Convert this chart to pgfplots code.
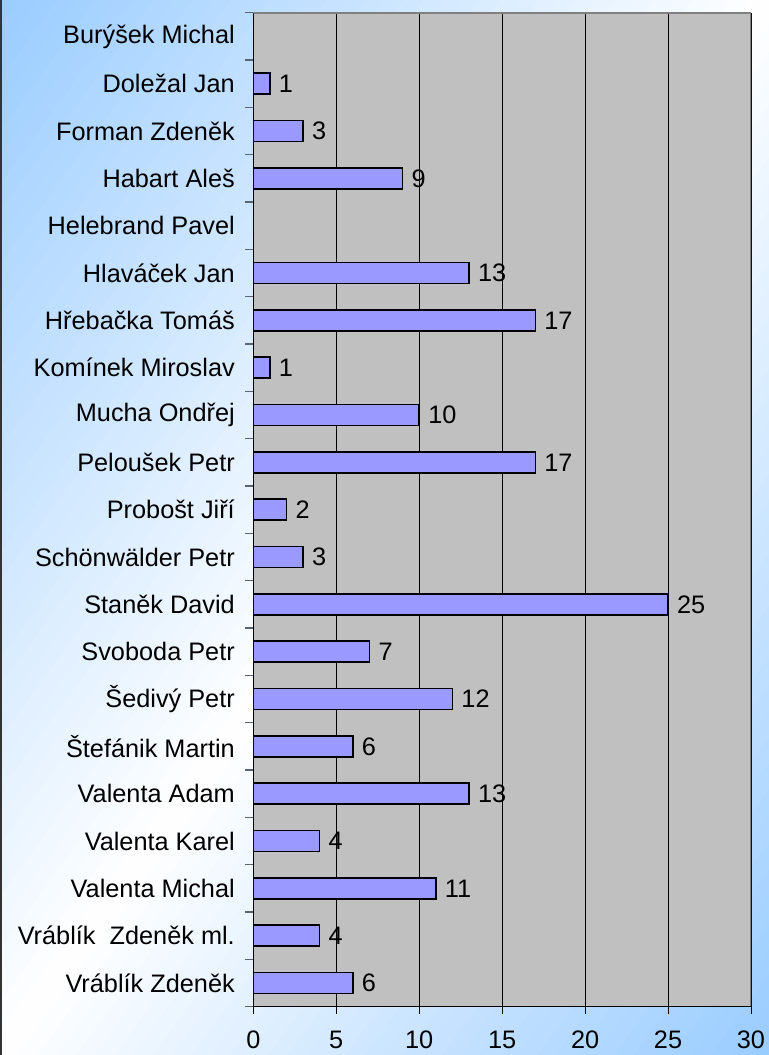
\documentclass[border=0pt]{standalone}
\usepackage{pgfplots}
\pgfplotsset{compat=1.18}
\usepackage{fontspec}
\setmainfont{Liberation Sans}
\definecolor{bgblue}{HTML}{99CCFF}
\definecolor{barfill}{HTML}{9999FF}
\definecolor{plotbg}{HTML}{C0C0C0}
\definecolor{bordergray}{HTML}{808080}
\definecolor{tickgray}{HTML}{5A6470}
\newcommand{\lblfont}{\fontsize{25.3bp}{30bp}\selectfont}
\begin{document}
\begin{tikzpicture}
\useasboundingbox (0,0) rectangle (769bp,1055bp);
\begin{scope}[x=769bp, y=1055bp]
  \clip (0,0) rectangle (1,1);
  \foreach \i in {0,...,79}{
    \pgfmathsetmacro{\ca}{\i/80}
    \pgfmathsetmacro{\cb}{(\i+1)/80}
    \pgfmathsetmacro{\p}{100*abs(2*(\i+0.5)/80-1)}
    \fill[bgblue!\p!white, draw=bgblue!\p!white, line width=0.6bp]
      (0,{1-2*\ca}) -- (1,{2-2*\ca}) -- (1,{2-2*\cb}) -- (0,{1-2*\cb}) -- cycle;
  }
\end{scope}
\draw[line width=1.5bp, black!80] (0.75bp,0) -- (0.75bp,1055bp);
\begin{axis}[
  at={(253.3bp,48.3bp)}, anchor=south west,
  scale only axis, width=497.7bp, height=994bp,
  xbar, bar width=21bp,
  xmin=0, xmax=30, ymin=-0.5, ymax=20.5,
  xtick={0,5,...,30}, ytick={0,...,20},
  yticklabels={Vráblík Zdeněk\hspace{10bp}, Vráblík\ \ Zdeněk ml., Valenta Michal, Valenta Karel, Valenta Adam, Štefánik Martin, Šedivý Petr, Svoboda Petr\hspace{10bp}, Staněk David\hspace{10bp}, Schönwälder Petr, Probošt Jiří, Peloušek Petr\hspace{10bp}, Mucha Ondřej, Komínek Miroslav, Hřebačka Tomáš, Hlaváček Jan, Helebrand Pavel, Habart Aleš, Forman Zdeněk, Doležal Jan, Burýšek Michal},
  minor ytick={-0.5,0.5,...,20.5},
  tick align=outside, xtick pos=left, ytick pos=left,
  major tick length=7bp, minor tick length=8bp,
  major x tick style={black, line width=1bp},
  major y tick style={draw=none},
  minor y tick style={tickgray, line width=1.5bp},
  xmajorgrids, major x grid style={black, line width=0.9bp},
  axis background/.style={fill=plotbg},
  axis line style={draw=none},
  tick label style={font=\lblfont, black},
  xticklabel style={yshift=-14bp},
  yticklabel style={xshift=-8bp},
  /pgf/number format/assume math mode=true,
  point meta=x, nodes near coords, nodes near coords align={horizontal},
  every node near coord/.append style={font=\lblfont, black, xshift=5bp},
]
\addplot[fill=barfill, draw=black, line width=1.5bp] coordinates {
(1,19) (3,18) (9,17) (13,15) (17,14) (1,13) (10,12) (17,11) (2,10) (3,9) (25,8) (7,7) (12,6) (6,5) (13,4) (4,3) (11,2) (4,1) (6,0)
};
\draw[bordergray, line width=2.5bp] (rel axis cs:0,1) -- (rel axis cs:1,1) -- (rel axis cs:1,0);
\draw[black, line width=1.5bp] (rel axis cs:0,1) -- (rel axis cs:0,0) -- (rel axis cs:1,0);
\end{axis}
\end{tikzpicture}
\end{document}
